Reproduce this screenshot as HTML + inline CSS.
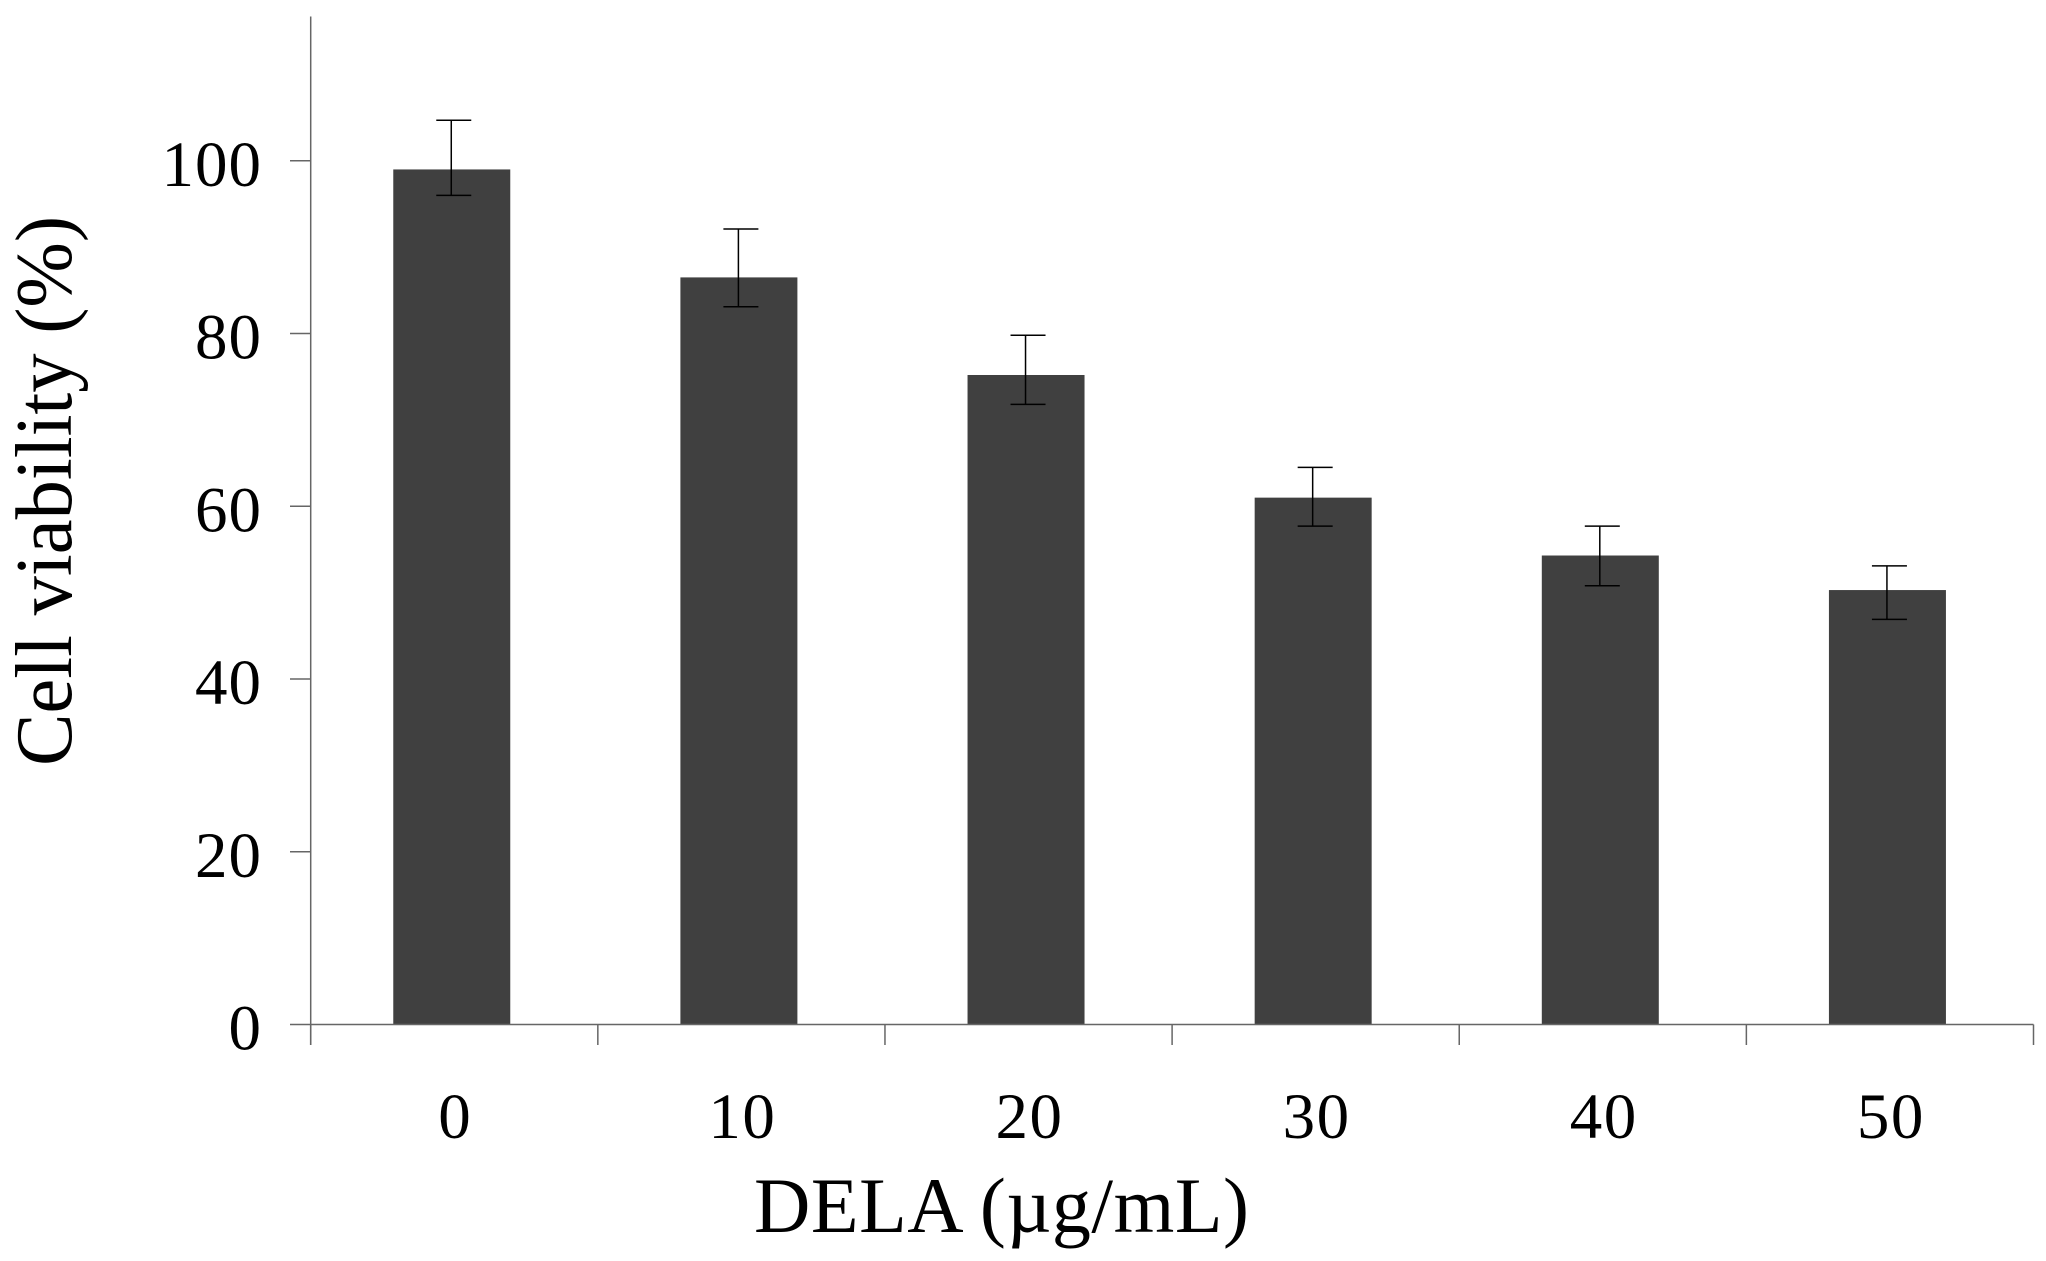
<!DOCTYPE html>
<html lang="en">
<head>
<meta charset="utf-8">
<title>Cell viability vs DELA concentration</title>
<style>
  html, body { margin: 0; padding: 0; background: #ffffff; }
  body { width: 2046px; height: 1261px; overflow: hidden; }
  svg { display: block; }
  text { font-family: "Liberation Serif", "Noto Serif CJK JP", serif; fill: #000000; }
</style>
</head>
<body>
<svg id="chart" xmlns="http://www.w3.org/2000/svg" width="2046" height="1261" viewBox="0 0 2046 1261">
  <rect x="0" y="0" width="2046" height="1261" fill="#ffffff"/>
  <g id="bars"></g>
  <g id="axes"></g>
  <g id="errors"></g>
  <g id="ylabels"></g>
  <g id="xlabels"></g>
  <text x="754" y="1232" font-size="78" textLength="495" lengthAdjust="spacing">DELA (µg/mL)</text>
  <text transform="translate(71 766) rotate(-90)" font-size="80" textLength="550" lengthAdjust="spacingAndGlyphs">Cell viability (%)</text>
</svg>
<script>
const categories = ['0', '10', '20', '30', '40', '50'];
const viability = [99.0, 86.5, 75.2, 61.0, 54.3, 50.3];
const errorHigh = [104.7, 92.1, 79.8, 64.5, 57.7, 53.1];
const errorLow = [96.0, 83.1, 71.8, 57.7, 50.8, 46.9];
const yTicks = [0, 20, 40, 60, 80, 100];
const yTop = 116.7;

const NS = 'http://www.w3.org/2000/svg';
const plotLeft = 310.7;
const plotRight = 2033.5;
const plotBottom = 1024.5;
const pxPerUnit = 8.637;
const bandWidth = (plotRight - plotLeft) / categories.length;

function yScale(v) { return plotBottom - v * pxPerUnit; }
function bandLeft(i) { return plotLeft + i * bandWidth; }
function bandCenter(i) { return bandLeft(i) + bandWidth / 2; }

function make(tag, attrs, parent) {
  const el = document.createElementNS(NS, tag);
  for (const k in attrs) el.setAttribute(k, attrs[k]);
  parent.appendChild(el);
  return el;
}

const barsG = document.getElementById('bars');
const axesG = document.getElementById('axes');
const errG = document.getElementById('errors');
const yLabG = document.getElementById('ylabels');
const xLabG = document.getElementById('xlabels');
const axisStyle = { stroke: '#666666', 'stroke-width': 1.5, fill: 'none' };
const errStyle = { stroke: '#000000', 'stroke-width': 1.5, fill: 'none' };

categories.forEach(function (cat, i) {
  const top = yScale(viability[i]);
  const bar = make('rect', { x: bandCenter(i) - 61, y: top, width: 117, height: plotBottom - top, fill: '#404040' }, barsG);
  
  

  const hi = yScale(errorHigh[i]);
  const lo = yScale(errorLow[i]);
  const stem = make('line', Object.assign({ x1: bandCenter(i) - 3, x2: bandCenter(i) - 3, y1: hi, y2: lo }, errStyle), errG);
  
  
  const capHi = make('line', Object.assign({ x1: bandCenter(i) - 18, x2: bandCenter(i) + 17, y1: hi, y2: hi }, errStyle), errG);
  
  
  const capLo = make('line', Object.assign({ x1: bandCenter(i) - 18, x2: bandCenter(i) + 17, y1: lo, y2: lo }, errStyle), errG);
  
  

  const lab = make('text', { x: bandCenter(i) + 1, y: 1138, 'font-size': 65, 'text-anchor': 'middle', 'letter-spacing': 1.5 }, xLabG);
  lab.textContent = cat;
  
  
});

const yAxis = make('line', Object.assign({ x1: plotLeft, x2: plotLeft, y1: yScale(yTop), y2: 1045 }, axisStyle), axesG);



const xAxis = make('line', Object.assign({ x1: 290, x2: plotRight, y1: plotBottom, y2: plotBottom }, axisStyle), axesG);



yTicks.forEach(function (t) {
  const y = yScale(t);
  if (t !== 0) {
    const tick = make('line', Object.assign({ x1: 290, x2: plotLeft, y1: y, y2: y }, axisStyle), axesG);
    
    
  }
  const lab = make('text', { x: 262, y: y + 25, 'font-size': 65, 'text-anchor': 'end', 'letter-spacing': 1 }, yLabG);
  lab.textContent = String(t);
  
  
});

for (let i = 0; i <= categories.length; i++) {
  const tick = make('line', Object.assign({ x1: bandLeft(i), x2: bandLeft(i), y1: plotBottom, y2: 1045 }, axisStyle), axesG);
  
  
}
</script>
</body>
</html>
